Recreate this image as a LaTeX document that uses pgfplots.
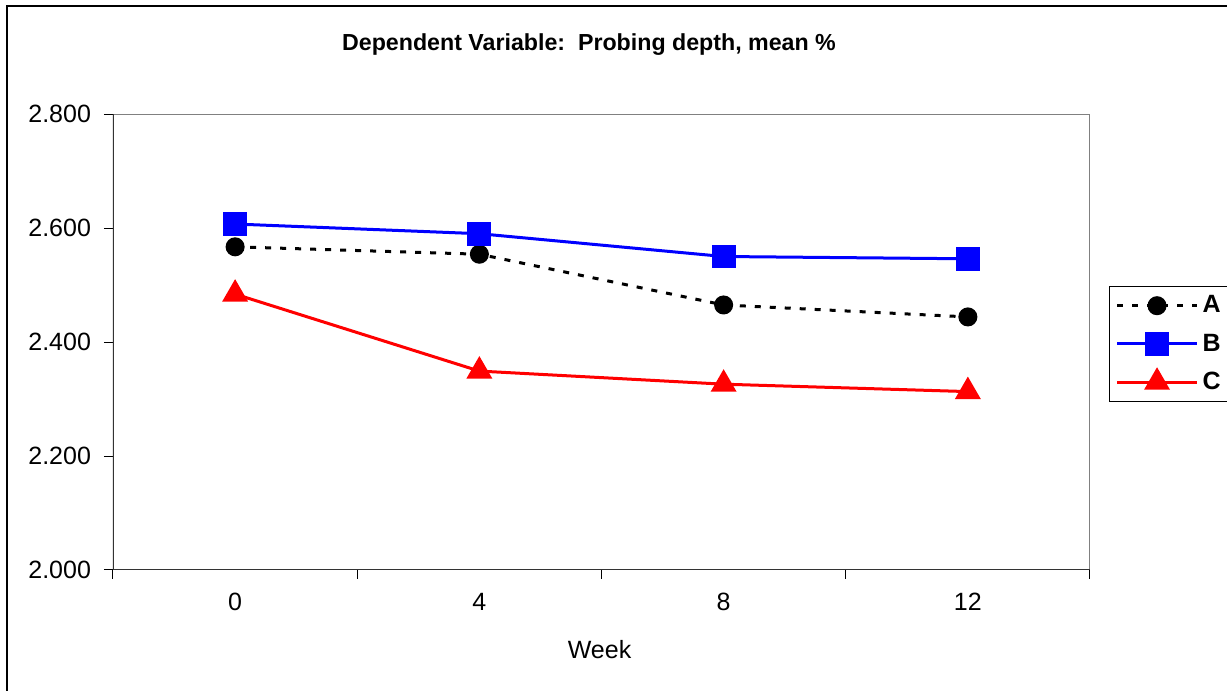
\documentclass[border=0pt]{standalone}
\usepackage{fontspec}
\setmainfont{Liberation Sans}
\usepackage{pgfplots}
\pgfplotsset{compat=1.18}

\begin{document}
\begin{tikzpicture}
\path[use as bounding box] (-56.5pt,-60.5pt) rectangle (557pt,285pt);
\begin{axis}[
    scale only axis,
    width=488.5pt, height=228pt,
    font=\fontsize{12.5}{14}\selectfont,
    xmin=-0.5, xmax=3.5,
    ymin=2, ymax=2.8,
    axis line style={draw=none},
    tick align=outside,
    tick style={black, line width=0.5pt},
    major tick length=4.5pt,
    xtick pos=bottom, ytick pos=left,
    xtick={-0.5,0.5,1.5,2.5,3.5},
    xticklabels={},
    extra x ticks={0,1,2,3},
    extra x tick labels={0,4,8,12},
    extra x tick style={major tick length=0pt},
    xticklabel style={yshift=-8pt},
    ytick={2,2.2,2.4,2.6,2.8},
    yticklabel style={xshift=-3pt},
    /pgf/number format/.cd, fixed, fixed zerofill, precision=3, assume math mode=true,
    /pgfplots/.cd,
    xlabel={Week},
    xlabel style={at={(axis description cs:0.498,0)}, anchor=center, yshift=-40pt},
    legend style={at={(1.0194,0.6228)}, anchor=north west, draw=black, line width=0.6pt,
        inner xsep=3pt, inner ysep=2.5pt, row sep=5pt,
        font=\bfseries\fontsize{12.5}{14}\selectfont},
    legend cell align=left,
    legend image code/.code={\draw[mark repeat=2, mark phase=2, #1] plot coordinates {(0pt,0pt) (20pt,0pt) (40pt,0pt)};},
]
\draw[gray, line width=0.6pt] (rel axis cs:0,1) -- (rel axis cs:1,1) -- (rel axis cs:1,0);
\draw[black!80, line width=0.6pt] (rel axis cs:0,1) -- (rel axis cs:0,0) -- (rel axis cs:1,0);

\addplot[black, line width=1.5pt, dash pattern=on 3pt off 4.5pt, mark=*, mark size=4pt, mark options={solid}]
    coordinates {(0,2.567) (1,2.554) (2,2.465) (3,2.444)};
\addlegendentry{A}
\addplot[blue, line width=1.5pt, mark=square*, mark size=5.2pt]
    coordinates {(0,2.607) (1,2.590) (2,2.550) (3,2.546)};
\addlegendentry{B}
\addplot[red, line width=1.5pt, mark=triangle*, mark size=6pt]
    coordinates {(0,2.484) (1,2.349) (2,2.326) (3,2.313)};
\addlegendentry{C}
\end{axis}
\node[font=\bfseries\fontsize{11.6}{14}\selectfont] at (238pt,262.5pt)
    {Dependent Variable:\ \ Probing depth, mean \%};
\draw[black, line width=1pt] (-53pt,-62pt) -- (-53pt,282pt) -- (560pt,282pt);
\end{tikzpicture}
\end{document}
